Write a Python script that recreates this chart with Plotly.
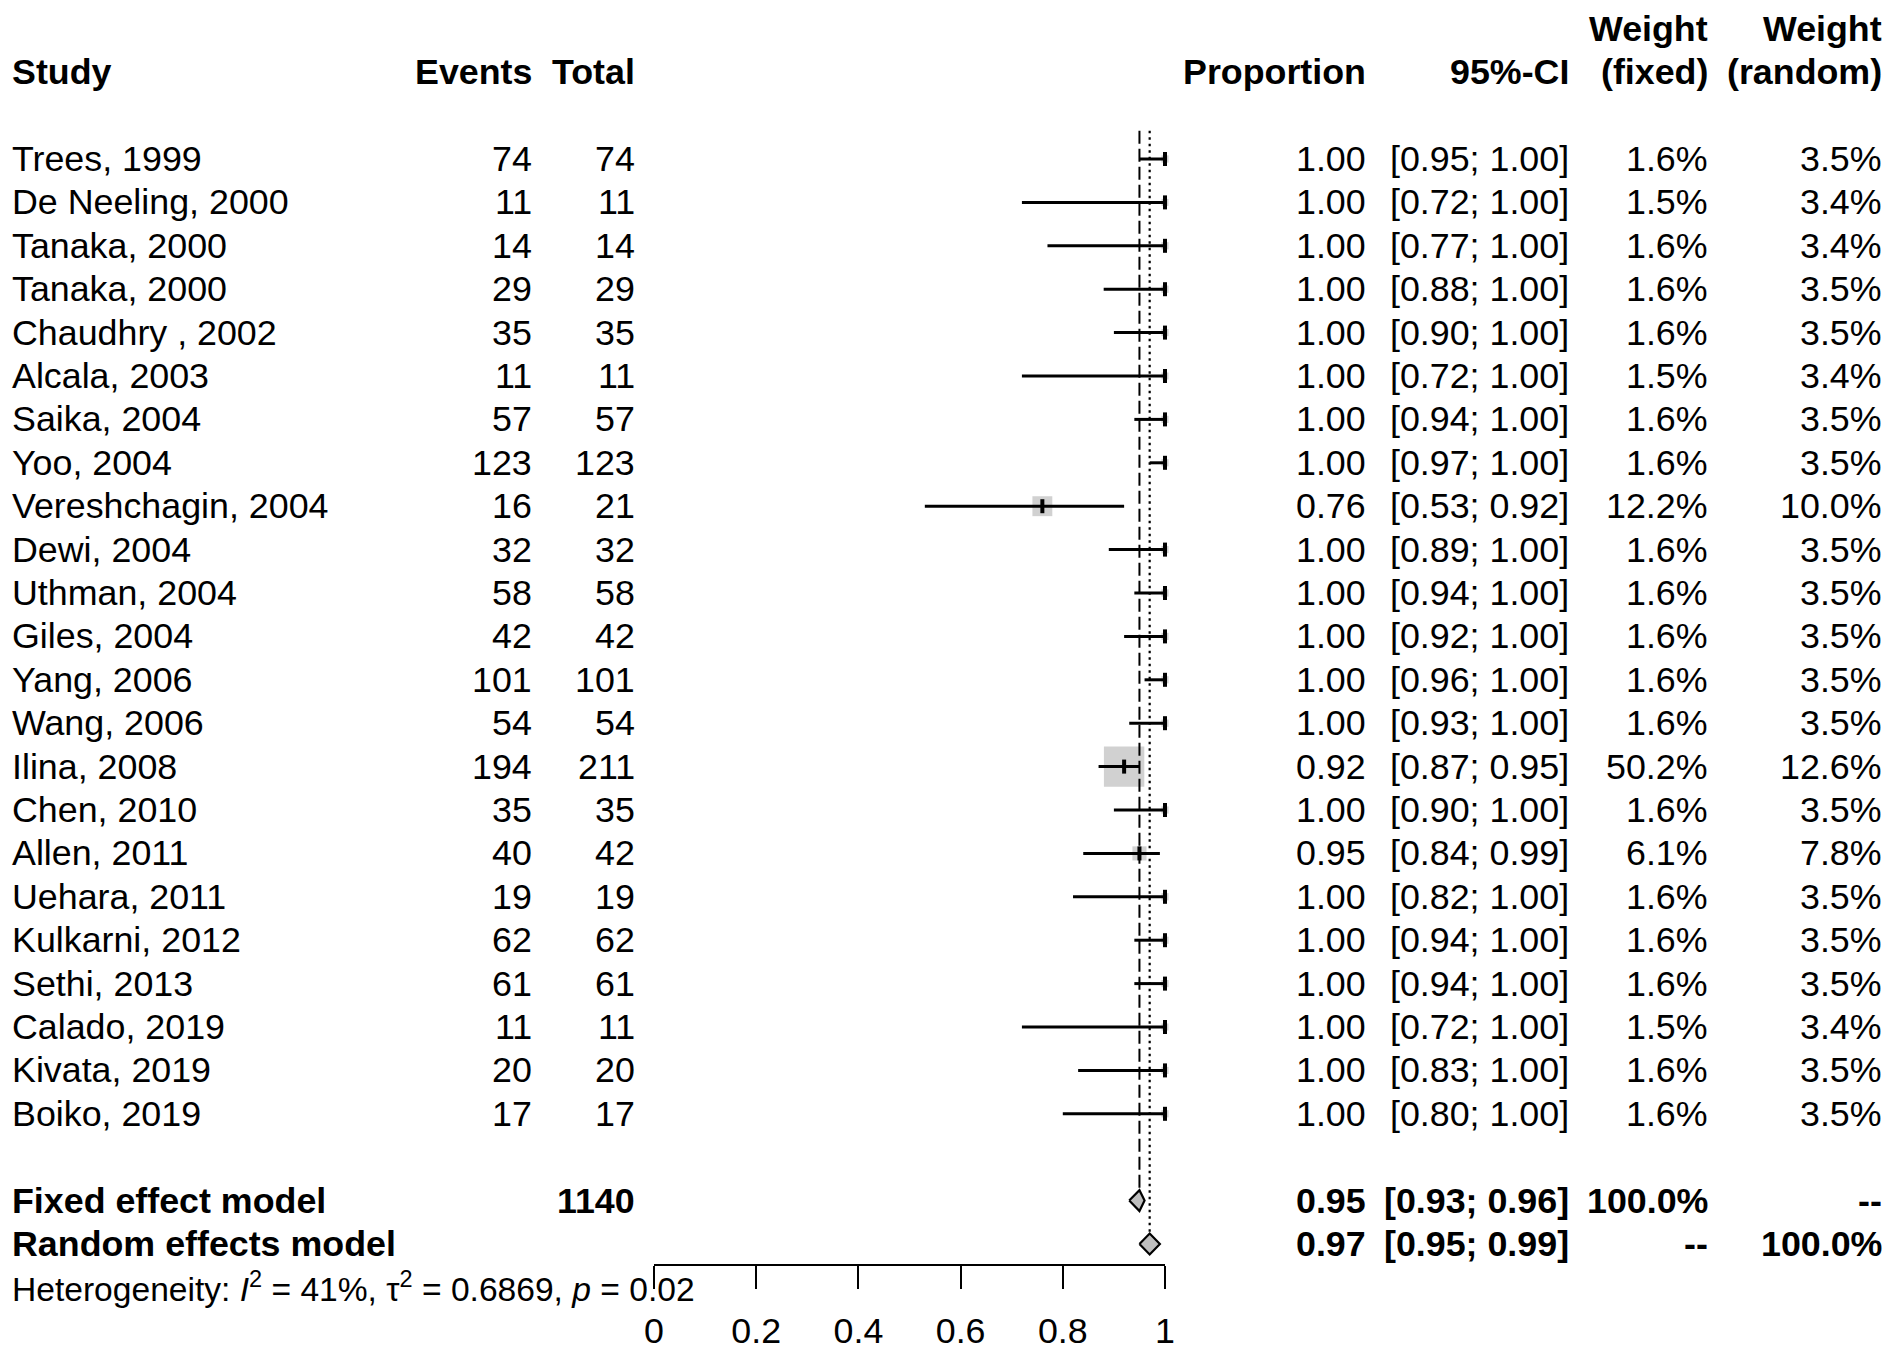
import plotly.graph_objects as go

# ---------------- data ----------------
studies = ["Trees, 1999", "De Neeling, 2000", "Tanaka, 2000", "Tanaka, 2000", "Chaudhry , 2002",
           "Alcala, 2003", "Saika, 2004", "Yoo, 2004", "Vereshchagin, 2004", "Dewi, 2004",
           "Uthman, 2004", "Giles, 2004", "Yang, 2006", "Wang, 2006", "Ilina, 2008",
           "Chen, 2010", "Allen, 2011", "Uehara, 2011", "Kulkarni, 2012", "Sethi, 2013",
           "Calado, 2019", "Kivata, 2019", "Boiko, 2019"]
events = [74, 11, 14, 29, 35, 11, 57, 123, 16, 32, 58, 42, 101, 54, 194, 35, 40, 19, 62, 61, 11, 20, 17]
totals = [74, 11, 14, 29, 35, 11, 57, 123, 21, 32, 58, 42, 101, 54, 211, 35, 42, 19, 62, 61, 11, 20, 17]
prop = [1.00, 1.00, 1.00, 1.00, 1.00, 1.00, 1.00, 1.00, 0.76, 1.00, 1.00, 1.00, 1.00, 1.00, 0.92,
        1.00, 0.95, 1.00, 1.00, 1.00, 1.00, 1.00, 1.00]
ci_low = [0.95, 0.72, 0.77, 0.88, 0.90, 0.72, 0.94, 0.97, 0.53, 0.89, 0.94, 0.92, 0.96, 0.93, 0.87,
          0.90, 0.84, 0.82, 0.94, 0.94, 0.72, 0.83, 0.80]
ci_up = [1.00, 1.00, 1.00, 1.00, 1.00, 1.00, 1.00, 1.00, 0.92, 1.00, 1.00, 1.00, 1.00, 1.00, 0.95,
         1.00, 0.99, 1.00, 1.00, 1.00, 1.00, 1.00, 1.00]
w_fixed = [1.6, 1.5, 1.6, 1.6, 1.6, 1.5, 1.6, 1.6, 12.2, 1.6, 1.6, 1.6, 1.6, 1.6, 50.2,
           1.6, 6.1, 1.6, 1.6, 1.6, 1.5, 1.6, 1.6]
w_random = [3.5, 3.4, 3.4, 3.5, 3.5, 3.4, 3.5, 3.5, 10.0, 3.5, 3.5, 3.5, 3.5, 3.5, 12.6,
            3.5, 7.8, 3.5, 3.5, 3.5, 3.4, 3.5, 3.5]

fixed_est, fixed_lo, fixed_hi = 0.95, 0.93, 0.96
random_est, random_lo, random_hi = 0.97, 0.95, 0.99
total_n = 1140
het_text = "Heterogeneity: <i>I</i><sup>2</sup> = 41%, τ<sup>2</sup> = 0.6869, <i>p</i> = 0.02"
tick_vals = [0, 0.2, 0.4, 0.6, 0.8, 1]
tick_text = ["0", "0.2", "0.4", "0.6", "0.8", "1"]

# ---------------- layout geometry ----------------
W, H = 1902, 1368
ROW0, ROWH = 159, 43.4
n = len(studies)
rows = list(range(n))
fixed_row = n + 1
random_row = n + 2
het_row = n + 3

X0, X1 = 654, 1165          # pixel positions of 0 and 1 on the axis
AXIS_Y = 1265
col_study, col_events, col_total = 11, 533, 636
col_prop, col_ci, col_wf, col_wr = 1367, 1570, 1709, 1883

FONT = "Liberation Sans, Arial, sans-serif"
FS = 35.8
GREY = "#BEBEBE"

fig = go.Figure()

# squares (area ~ fixed weight)
fig.add_trace(go.Scatter(
    x=prop, y=rows, mode="markers", cliponaxis=False, hoverinfo="skip",
    marker=dict(symbol="square", color=GREY, size=[5.7 * w ** 0.5 for w in w_fixed],
                line=dict(width=0))))

# confidence interval lines
cx, cy = [], []
for lo, hi, r in zip(ci_low, ci_up, rows):
    cx += [lo, hi, None]
    cy += [r, r, None]
fig.add_trace(go.Scatter(x=cx, y=cy, mode="lines", line=dict(color="black", width=3),
                         hoverinfo="skip"))

# point-estimate ticks
fig.add_trace(go.Scatter(
    x=prop, y=rows, mode="markers", cliponaxis=False, hoverinfo="skip",
    marker=dict(symbol="line-ns", size=10, line=dict(color="black", width=4))))

# reference lines (fixed dashed, random dotted)
fig.add_trace(go.Scatter(x=[fixed_est, fixed_est], y=[-0.65, fixed_row - 0.25], mode="lines",
                         line=dict(color="black", width=2, dash="13px,5px"), hoverinfo="skip"))
fig.add_trace(go.Scatter(x=[random_est, random_est], y=[-0.65, random_row - 0.25], mode="lines",
                         line=dict(color="black", width=2.2, dash="2.5px,4px"), hoverinfo="skip"))

# diamonds
for est, lo, hi, r in [(fixed_est, fixed_lo, fixed_hi, fixed_row),
                       (random_est, random_lo, random_hi, random_row)]:
    fig.add_trace(go.Scatter(x=[lo, est, hi, est, lo], y=[r, r - 0.24, r, r + 0.24, r],
                             mode="lines", fill="toself", fillcolor=GREY,
                             line=dict(color="black", width=2.2), hoverinfo="skip"))


def txt(px, row, s, anchor="right", bold=False, size=FS):
    fig.add_annotation(x=px / W, y=row, xref="paper", yref="y", text=f"<b>{s}</b>" if bold else s,
                       showarrow=False, xanchor=anchor, yanchor="middle", borderpad=0,
                       font=dict(family=FONT, size=size, color="black"))


# headers
txt(col_study, -2, "Study", "left", True)
txt(col_events, -2, "Events", bold=True)
txt(col_total, -2, "Total", bold=True)
txt(col_prop, -2, "Proportion", bold=True)
txt(col_ci, -2, "95%-CI", bold=True)
txt(col_wf, -3, "Weight", bold=True)
txt(col_wf, -2, "(fixed)", bold=True)
txt(col_wr, -3, "Weight", bold=True)
txt(col_wr, -2, "(random)", bold=True)

# study rows
for i in rows:
    txt(col_study, i, studies[i], "left")
    txt(col_events, i, str(events[i]))
    txt(col_total, i, str(totals[i]))
    txt(col_prop, i, f"{prop[i]:.2f}")
    txt(col_ci, i, f"[{ci_low[i]:.2f}; {ci_up[i]:.2f}]")
    txt(col_wf, i, f"{w_fixed[i]:.1f}%")
    txt(col_wr, i, f"{w_random[i]:.1f}%")

# summary rows
txt(col_study, fixed_row, "Fixed effect model", "left", True)
txt(col_total, fixed_row, str(total_n), bold=True)
txt(col_prop, fixed_row, f"{fixed_est:.2f}", bold=True)
txt(col_ci, fixed_row, f"[{fixed_lo:.2f}; {fixed_hi:.2f}]", bold=True)
txt(col_wf, fixed_row, "100.0%", bold=True)
txt(col_wr, fixed_row, "--", bold=True)

txt(col_study, random_row, "Random effects model", "left", True)
txt(col_prop, random_row, f"{random_est:.2f}", bold=True)
txt(col_ci, random_row, f"[{random_lo:.2f}; {random_hi:.2f}]", bold=True)
txt(col_wf, random_row, "--", bold=True)
txt(col_wr, random_row, "100.0%", bold=True)

txt(col_study, het_row, het_text, "left", size=33.6)

fig.update_layout(
    width=W, height=H, margin=dict(l=0, r=0, t=0, b=0, pad=0, autoexpand=False),
    paper_bgcolor="white", plot_bgcolor="rgba(0,0,0,0)", showlegend=False,
    xaxis=dict(domain=[X0 / W, X1 / W], range=[0, 1], anchor="free", position=1 - AXIS_Y / H,
               showline=True, linecolor="black", linewidth=2, ticks="outside", ticklen=23,
               tickwidth=2, tickcolor="black", tickvals=tick_vals, ticktext=tick_text,
               showgrid=False, zeroline=False, ticklabelstandoff=11, automargin=False,
               tickfont=dict(family=FONT, size=FS, color="black")),
    yaxis=dict(domain=[0, 1], range=[(H - ROW0) / ROWH, -ROW0 / ROWH], visible=False,
               showgrid=False, zeroline=False, automargin=False),
)

fig.write_html("out.html", config={"displayModeBar": False},
               post_script="document.body.style.margin='0';document.body.style.overflow='hidden';")
